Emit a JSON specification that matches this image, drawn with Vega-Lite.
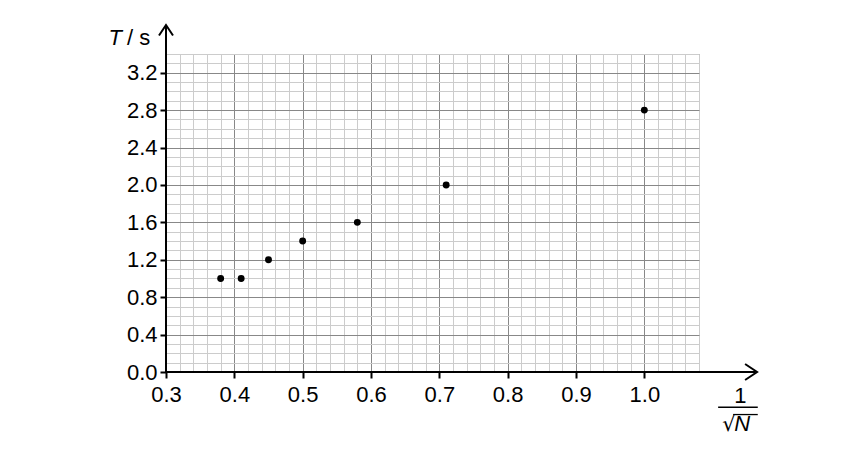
{
  "$schema": "https://vega.github.io/schema/vega-lite/v6.json",
  "width": 533,
  "height": 318,
  "autosize": "none",
  "padding": {"left": 166, "top": 54, "right": 155, "bottom": 84},
  "background": "white",
  "data": {
    "values": [
      {"inv_sqrt_N": 0.38, "T": 1.0},
      {"inv_sqrt_N": 0.41, "T": 1.0},
      {"inv_sqrt_N": 0.45, "T": 1.2},
      {"inv_sqrt_N": 0.5, "T": 1.4},
      {"inv_sqrt_N": 0.58, "T": 1.6},
      {"inv_sqrt_N": 0.71, "T": 2.0},
      {"inv_sqrt_N": 1.0, "T": 2.8}
    ]
  },
  "layer": [
    {
      "mark": {"type": "point", "filled": true, "size": 48, "color": "black", "opacity": 1},
      "encoding": {
        "x": {
          "field": "inv_sqrt_N",
          "type": "quantitative",
          "scale": {"domain": [0.3, 1.08], "nice": false, "zero": false},
          "axis": {
            "title": null,
            "domain": false,
            "values": [0.3, 0.32, 0.34, 0.36, 0.38, 0.4, 0.42, 0.44, 0.46, 0.48, 0.5, 0.52, 0.54, 0.56, 0.58, 0.6, 0.62, 0.64, 0.66, 0.68, 0.7, 0.72, 0.74, 0.76, 0.78, 0.8, 0.82, 0.84, 0.86, 0.88, 0.9, 0.92, 0.94, 0.96, 0.98, 1.0, 1.02, 1.04, 1.06, 1.08],
            "tickCount": 200,
            "grid": true,
            "gridColor": {"condition": {"test": "abs(datum.value*10 - round(datum.value*10)) < 0.001", "value": "#888888"}, "value": "#cccccc"},
            "gridOpacity": 1,
            "gridWidth": 1,
            "ticks": true,
            "tickColor": "black",
            "tickWidth": 2,
            "tickSize": 6,
            "tickOpacity": {"condition": {"test": "abs(datum.value*10 - round(datum.value*10)) < 0.001", "value": 1}, "value": 0},
            "labelExpr": "abs(datum.value*10 - round(datum.value*10)) < 0.001 ? format(datum.value, '.1f') : ''",
            "labelFont": "Liberation Sans",
            "labelFontSize": 22,
            "labelColor": "black",
            "labelPadding": 6,
            "labelFlush": false,
            "labelBound": false,
            "labelOverlap": false
          }
        },
        "y": {
          "field": "T",
          "type": "quantitative",
          "scale": {"domain": [0, 3.4], "nice": false, "zero": false},
          "axis": {
            "title": null,
            "domain": false,
            "values": [0, 0.1, 0.2, 0.3, 0.4, 0.5, 0.6, 0.7, 0.8, 0.9, 1.0, 1.1, 1.2, 1.3, 1.4, 1.5, 1.6, 1.7, 1.8, 1.9, 2.0, 2.1, 2.2, 2.3, 2.4, 2.5, 2.6, 2.7, 2.8, 2.9, 3.0, 3.1, 3.2, 3.3, 3.4],
            "tickCount": 200,
            "grid": true,
            "gridColor": {"condition": {"test": "abs(datum.value*2.5 - round(datum.value*2.5)) < 0.001", "value": "#888888"}, "value": "#cccccc"},
            "gridOpacity": 1,
            "gridWidth": 1,
            "ticks": true,
            "tickColor": "black",
            "tickWidth": 2,
            "tickSize": 6,
            "tickOpacity": {"condition": {"test": "abs(datum.value*2.5 - round(datum.value*2.5)) < 0.001", "value": 1}, "value": 0},
            "labelExpr": "abs(datum.value*2.5 - round(datum.value*2.5)) < 0.001 ? format(datum.value, '.1f') : ''",
            "labelFont": "Liberation Sans",
            "labelFontSize": 22,
            "labelColor": "black",
            "labelPadding": 3,
            "labelFlush": false,
            "labelBound": false,
            "labelOverlap": false
          }
        }
      }
    },
    {
      "data": {"values": [{}]},
      "mark": {"type": "rule", "color": "black", "strokeWidth": 2},
      "encoding": {"x": {"datum": 0.3}, "x2": {"datum": 1.163}, "y": {"datum": 0}}
    },
    {
      "data": {"values": [{}]},
      "mark": {"type": "rule", "color": "black", "strokeWidth": 2},
      "encoding": {"x": {"datum": 0.3}, "y": {"datum": 0}, "y2": {"datum": 3.705}}
    },
    {
      "data": {"values": [{}]},
      "mark": {"type": "point", "shape": "M-1.5,-1L0,0L-1.5,1", "filled": false, "size": 256, "color": "black", "strokeWidth": 2, "opacity": 1},
      "encoding": {"x": {"datum": 1.165}, "y": {"datum": 0}}
    },
    {
      "data": {"values": [{}]},
      "mark": {"type": "point", "shape": "M-1,1.5L0,0L1,1.5", "filled": false, "size": 196, "color": "black", "strokeWidth": 2, "opacity": 1},
      "encoding": {"x": {"datum": 0.3}, "y": {"datum": 3.71}}
    },
    {
      "data": {"values": [{}]},
      "mark": {"type": "text", "text": "T", "font": "Liberation Sans", "fontSize": 22, "fontStyle": "italic", "align": "left", "baseline": "alphabetic", "color": "black"},
      "encoding": {"x": {"datum": 0.216}, "y": {"datum": 3.5}}
    },
    {
      "data": {"values": [{}]},
      "mark": {"type": "text", "text": "/ s", "font": "Liberation Sans", "fontSize": 22, "align": "left", "baseline": "alphabetic", "color": "black"},
      "encoding": {"x": {"datum": 0.243}, "y": {"datum": 3.5}}
    },
    {
      "data": {"values": [{}]},
      "mark": {"type": "text", "text": "1", "font": "Liberation Sans", "fontSize": 22, "align": "center", "baseline": "alphabetic", "color": "black"},
      "encoding": {"x": {"datum": 1.1404}, "y": {"datum": -0.332}}
    },
    {
      "data": {"values": [{}]},
      "mark": {"type": "rule", "color": "black", "strokeWidth": 1.5},
      "encoding": {"x": {"datum": 1.108}, "x2": {"datum": 1.166}, "y": {"datum": -0.378}}
    },
    {
      "data": {"values": [{}]},
      "mark": {"type": "text", "text": "√", "font": "DejaVu Sans", "fontSize": 21, "align": "right", "baseline": "alphabetic", "color": "black"},
      "encoding": {"x": {"datum": 1.1335}, "y": {"datum": -0.63}}
    },
    {
      "data": {"values": [{}]},
      "mark": {"type": "text", "text": "N", "font": "Liberation Sans", "fontSize": 22, "fontStyle": "italic", "align": "left", "baseline": "alphabetic", "color": "black"},
      "encoding": {"x": {"datum": 1.1315}, "y": {"datum": -0.63}}
    },
    {
      "data": {"values": [{}]},
      "mark": {"type": "rule", "color": "black", "strokeWidth": 1.3},
      "encoding": {"x": {"datum": 1.13}, "x2": {"datum": 1.166}, "y": {"datum": -0.455}}
    }
  ],
  "config": {
    "view": {"stroke": "#888888", "strokeWidth": 1}
  }
}
